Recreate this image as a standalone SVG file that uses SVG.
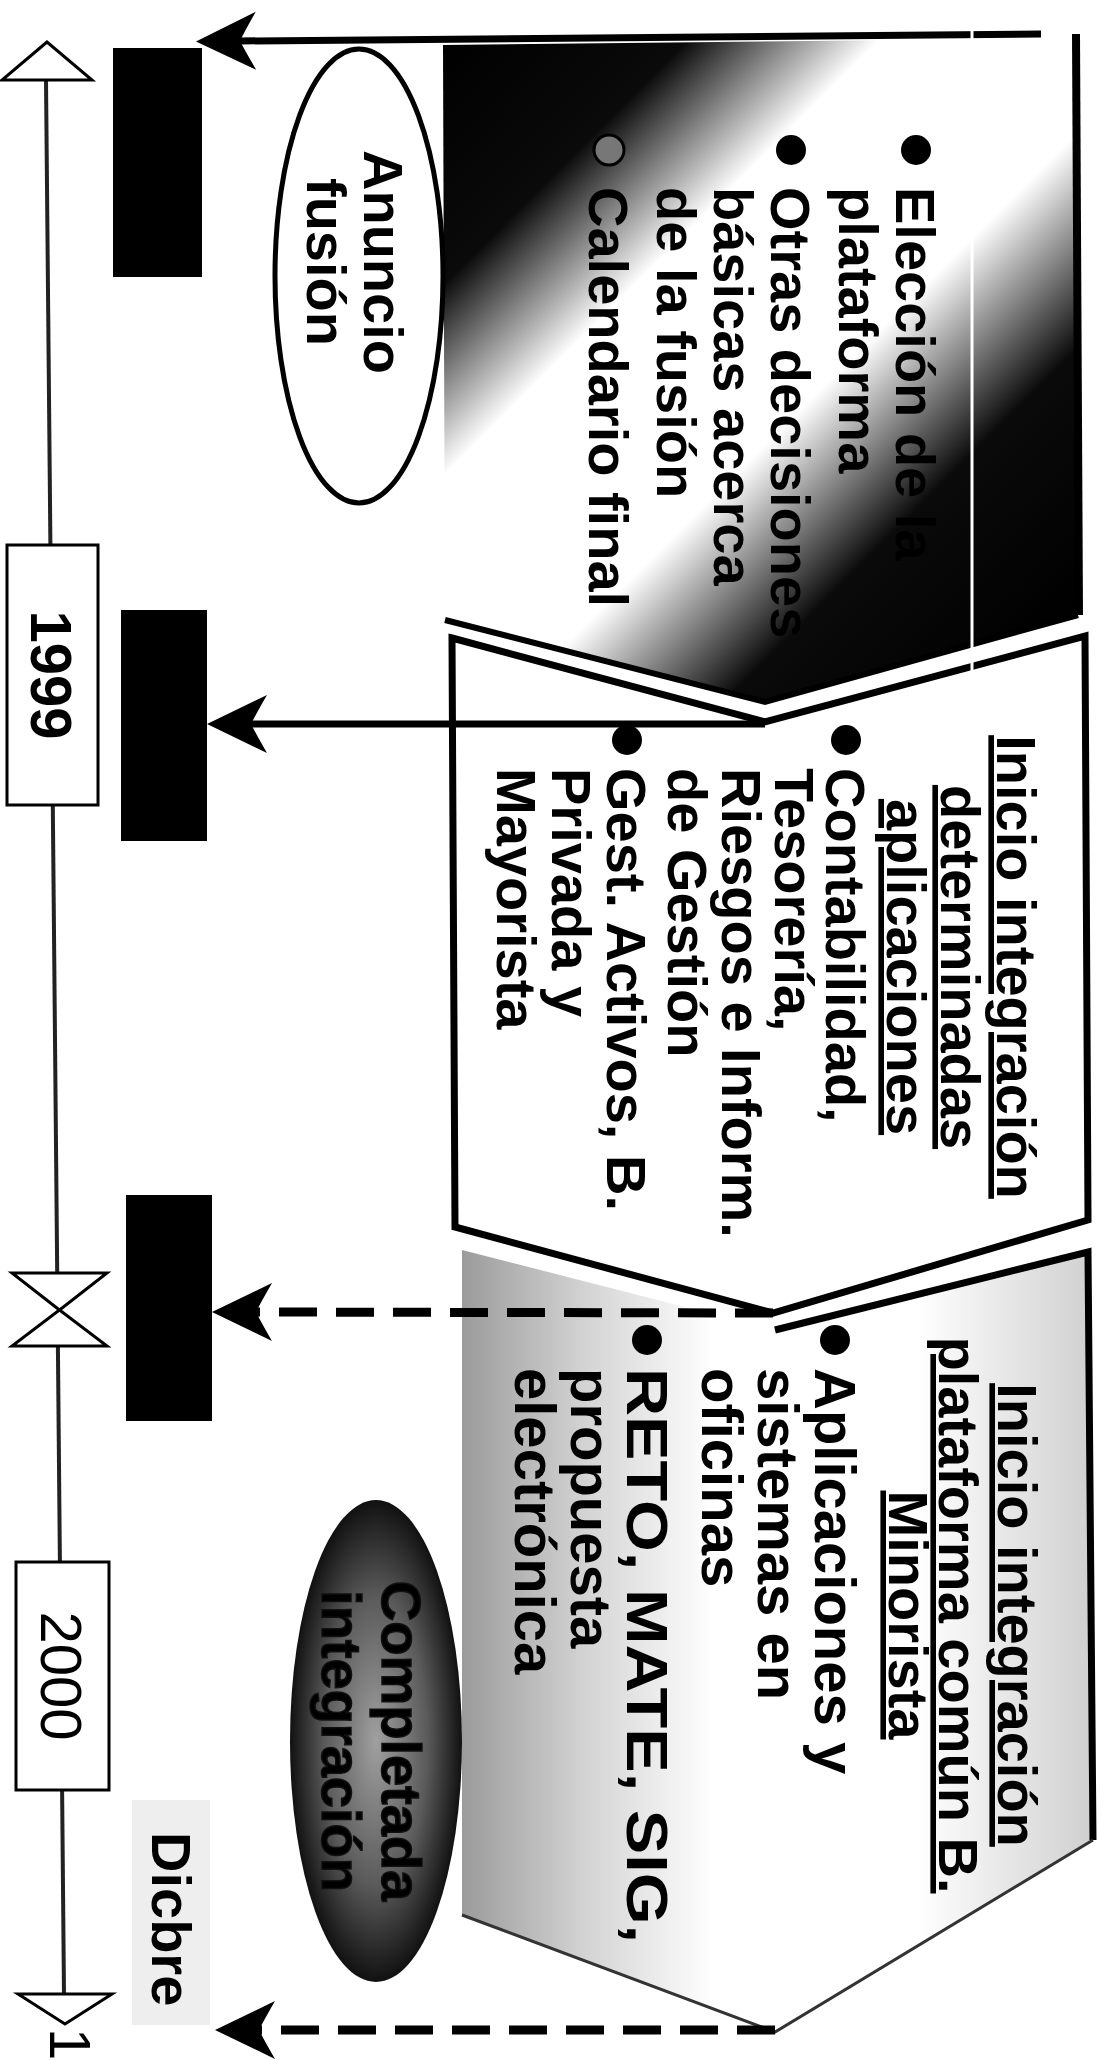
<svg xmlns="http://www.w3.org/2000/svg" width="1107" height="2060" viewBox="0 0 1107 2060">
<defs>
<style>
.t{font-family:"Liberation Sans",Arial,sans-serif;font-weight:bold;font-size:56px;fill:#000}
.b3{font-size:58px}
.u{text-decoration:underline}
.yr{font-family:"Liberation Sans",Arial,sans-serif;font-size:58px;fill:#000}
.tl{stroke:#222;stroke-width:4;fill:none}
.bx{fill:#fff;stroke:#000;stroke-width:3}
.lbl{fill:#000}
.con{fill:none;stroke:#000;stroke-width:7}
.dash{fill:none;stroke:#000;stroke-width:9;stroke-dasharray:38 19}
</style>
<marker id="ah" markerUnits="userSpaceOnUse" viewBox="-62 -31 64 62" markerWidth="64" markerHeight="62" refX="-44" refY="0" orient="auto">
<path d="M0,0 L-60,-29 Q-49,-10 -44,0 Q-49,10 -60,29 Z" fill="#000"/>
</marker>
<linearGradient id="g1" gradientUnits="userSpaceOnUse" x1="243" y1="243" x2="846" y2="846">
<stop offset="0" stop-color="#000"/>
<stop offset="0.2" stop-color="#0a0a0a"/>
<stop offset="0.36" stop-color="#fff"/>
<stop offset="0.6" stop-color="#fff"/>
<stop offset="0.78" stop-color="#0a0a0a"/>
<stop offset="1" stop-color="#000"/>
</linearGradient>
<linearGradient id="g3" gradientUnits="userSpaceOnUse" x1="460" y1="0" x2="1095" y2="0">
<stop offset="0" stop-color="#9a9a9a"/>
<stop offset="0.2" stop-color="#d4d4d4"/>
<stop offset="0.4" stop-color="#fff"/>
<stop offset="0.72" stop-color="#fff"/>
<stop offset="1" stop-color="#cfcfcf"/>
</linearGradient>
<radialGradient id="g4" cx="0.5" cy="0.5" r="0.5">
<stop offset="0" stop-color="#a0a0a0"/>
<stop offset="0.6" stop-color="#5a5a5a"/>
<stop offset="1" stop-color="#111"/>
</radialGradient>
</defs>
<rect width="1107" height="2060" fill="#fff"/>

<!-- timeline -->
<g id="timeline">
<line class="tl" x1="46" y1="80" x2="50.4" y2="545"/>
<line class="tl" x1="52.8" y1="805" x2="57.2" y2="1273"/>
<line class="tl" x1="57.9" y1="1346" x2="59.9" y2="1562"/>
<line class="tl" x1="62.1" y1="1790" x2="64" y2="1994"/>
<polygon class="bx" points="47,42 2,80 92,80"/>
<polygon class="bx" points="18,1994 112,1994 65,2024"/>
<polygon class="bx" points="12,1273 107,1273 59.5,1310 107,1346 12,1346 59.5,1310"/>
</g>
<g id="y1999"><rect class="bx" x="7" y="545" width="91" height="260"/>
<text class="yr" font-weight="bold" transform="rotate(90)" x="675" y="-31" text-anchor="middle">1999</text></g>
<g id="y2000"><rect class="bx" x="16" y="1562" width="93" height="228"/>
<text class="yr" transform="rotate(90)" x="1676" y="-41" text-anchor="middle">2000</text></g>
<g id="pagenum"><text class="yr" font-size="22" transform="rotate(90)" x="2028" y="-50">1</text></g>

<!-- labels -->
<g id="label1"><rect class="lbl" x="113" y="48" width="89" height="229"/></g>
<g id="label2"><rect class="lbl" x="121" y="610" width="86" height="231"/></g>
<g id="label3"><rect class="lbl" x="126" y="1195" width="86" height="226"/></g>
<g id="dicbre"><rect x="132" y="1800" width="78" height="225" fill="#eeeeee"/>
<text class="t" font-size="52" transform="rotate(90)" x="1832" y="-152">Dicbre</text></g>

<!-- chevron 1 -->
<g id="chevron1">
<polygon points="443,45 1076,38 1078,615 765,702 445,620" fill="url(#g1)"/>
<line x1="1076" y1="34" x2="1079" y2="615" stroke="#000" stroke-width="8"/>
<polyline points="1078,615 765,702 445,620" fill="none" stroke="#000" stroke-width="6"/>
<g transform="rotate(90)">
<text class="t" x="187" y="-896">Elección de la</text>
<text class="t" x="187" y="-839">plataforma</text>
<text class="t" x="187" y="-771">Otras decisiones</text>
<text class="t" x="187" y="-714">básicas acerca</text>
<text class="t" x="187" y="-657">de la fusión</text>
<text class="t" x="187" y="-589">Calendario final</text>
</g>
<circle cx="916" cy="150" r="15"/>
<circle cx="791" cy="150" r="15"/>
<circle cx="609" cy="150" r="15" fill="#777" stroke="#000" stroke-width="3"/>
</g>

<g id="anuncio">
<ellipse cx="359" cy="276" rx="84" ry="227" fill="#fff" stroke="#000" stroke-width="5"/>
<g transform="rotate(90)">
<text class="t" x="262" y="-364" text-anchor="middle">Anuncio</text>
<text class="t" x="262" y="-307" text-anchor="middle">fusión</text>
</g>
</g>

<!-- chevron 2 -->
<g id="chevron2">
<polygon points="452,638 765,722 1085,636 1088,1220 773,1313 455,1227" fill="#fff" stroke="#000" stroke-width="7" stroke-linejoin="miter"/>
<g transform="rotate(90)">
<text class="t u" x="967" y="-997" text-anchor="middle">Inicio integración</text>
<text class="t u" x="967" y="-941" text-anchor="middle">determinadas</text>
<text class="t u" x="967" y="-887" text-anchor="middle">aplicaciones</text>
<text class="t" x="768" y="-826">Contabilidad,</text>
<text class="t" x="768" y="-775">Tesorería,</text>
<text class="t" x="768" y="-722">Riesgos e Inform.</text>
<text class="t" x="768" y="-668">de Gestión</text>
<text class="t" x="768" y="-607">Gest. Activos, B.</text>
<text class="t" x="768" y="-552">Privada y</text>
<text class="t" x="768" y="-497">Mayorista</text>
</g>
<circle cx="846" cy="740" r="15"/>
<circle cx="627" cy="740" r="15"/>
</g>

<!-- chevron 3 -->
<g id="chevron3">
<polygon points="462,1250 775,1330 1088,1252 1093,1840 775,2032 462,1915" fill="url(#g3)"/>
<polyline points="775,1330 1088,1252 1093,1840" fill="none" stroke="#000" stroke-width="7"/>
<polyline points="1093,1840 775,2032 462,1915" fill="none" stroke="#333" stroke-width="3"/>
<g transform="rotate(90)">
<text class="t u" x="1615" y="-998" text-anchor="middle">Inicio integración</text>
<text class="t u" x="1615" y="-939" text-anchor="middle">plataforma común B.</text>
<text class="t u" x="1615" y="-889" text-anchor="middle">Minorista</text>
<text class="t b3" x="1368" y="-815">Aplicaciones y</text>
<text class="t b3" x="1368" y="-758">sistemas en</text>
<text class="t b3" x="1368" y="-702">oficinas</text>
<text class="t b3" x="1368" y="-627" textLength="575" lengthAdjust="spacingAndGlyphs">RETO, MATE, SIG,</text>
<text class="t b3" x="1368" y="-571">propuesta</text>
<text class="t b3" x="1368" y="-515">electrónica</text>
</g>
<circle cx="835" cy="1340" r="15"/>
<circle cx="647" cy="1340" r="15"/>
</g>

<g id="completada">
<ellipse cx="376" cy="1741" rx="86" ry="241" fill="url(#g4)"/>
<g transform="rotate(90)">
<text class="t" x="1741" y="-382" text-anchor="middle" fill="#fff" stroke="#111" stroke-width="1.5">Completada</text>
<text class="t" x="1741" y="-322" text-anchor="middle" fill="#fff" stroke="#111" stroke-width="1.5">integración</text>
</g>
</g>

<!-- connectors -->
<g id="connectors">
<path class="con" d="M1041,34 L240,41" marker-end="url(#ah)"/>
<path class="con" d="M765,724 L251,724" marker-end="url(#ah)"/>
<path class="dash" d="M773,1313 L256,1312" marker-end="url(#ah)"/>
<path class="dash" d="M775,2030 L259,2030" marker-end="url(#ah)"/>
</g>
<line x1="972" y1="20" x2="972" y2="690" stroke="#fff" stroke-width="3"/>
</svg>
